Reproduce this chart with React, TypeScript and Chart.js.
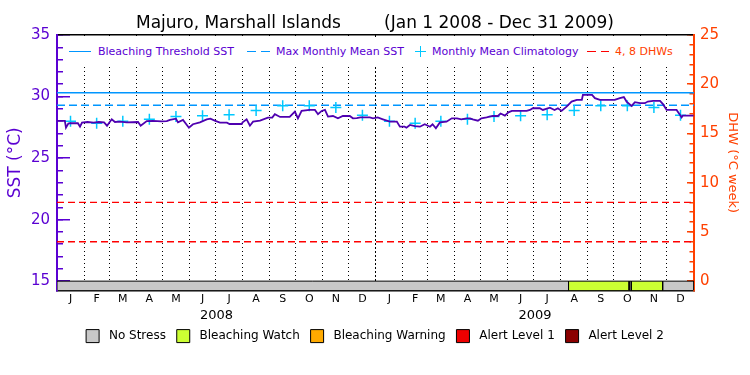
import React, { useEffect, useRef } from 'react';
import { Chart, registerables } from 'chart.js';

Chart.register(...registerables);

// ---------- data ----------
const START = Date.UTC(2008, 0, 1);
const DAY = 86400000;
const TOTAL_DAYS = 731;
const YEARS = [2008, 2009];

const monthLetters = ['J', 'F', 'M', 'A', 'M', 'J', 'J', 'A', 'S', 'O', 'N', 'D'];
const yearLabels = ['2008', '2009'];

// SST (°C) readings: day offset since Jan 1 2008, value
const sstDays = [
  0, 9, 10.3, 13, 15, 24, 26.4, 28.7, 35, 42, 48, 54, 57.4, 62.8, 66.5, 72, 80, 93, 96, 103,
  110, 120, 126, 129.6, 136.5, 138.8, 144.6, 151.4, 156, 164, 171.8, 176, 181, 187, 195, 198,
  212, 213, 217.6, 221.4, 225, 233, 242, 247, 250, 256, 267, 273, 276.5, 280.7, 290, 296,
  299.5, 303.7, 307.5, 311, 316.7, 322.4, 328, 336, 339.6, 344, 348, 359, 362.6, 368, 374,
  382, 390, 393.5, 399, 401, 405, 410.7, 416.5, 422, 428, 431, 434.8, 439.4, 447, 453, 459,
  464, 470, 474, 477, 483, 487, 493, 500, 506, 509, 514, 518, 522, 539, 542.7, 546, 554,
  557.6, 565.6, 571, 574.8, 579, 584.8, 590.5, 596.6, 602.3, 603.5, 614, 617.3, 623, 640,
  645.9, 650.5, 653.6, 659.4, 663.2, 669, 674.6, 678, 684, 692, 695.4, 699.6, 711, 715,
  716.8, 718.2, 730.5,
];
const sstValues = [
  28.02, 28.02, 27.47, 27.8, 27.83, 27.83, 27.55, 27.88, 27.93, 27.88, 27.93, 27.9, 27.63, 28.15, 27.93, 27.96, 27.9, 27.93, 27.63, 28.0,
  28.02, 27.98, 28.0, 28.1, 28.2, 27.9, 28.1, 27.47, 27.75, 27.9, 28.15, 28.2, 28.04, 27.88, 27.88, 27.77,
  27.77, 27.9, 28.15, 27.63, 27.96, 28.04, 28.29, 28.29, 28.56, 28.34, 28.34, 28.77, 28.23, 28.83, 28.91, 28.91,
  28.56, 28.83, 28.91, 28.37, 28.42, 28.23, 28.42, 28.42, 28.23, 28.25, 28.3, 28.3, 28.23, 28.3, 28.15,
  27.96, 27.96, 27.55, 27.55, 27.47, 27.69, 27.6, 27.55, 27.75, 27.55, 27.75, 27.42, 27.9, 27.96, 28.23, 28.23,
  28.15, 28.23, 28.23, 28.15, 28.04, 28.23, 28.3, 28.42, 28.42, 28.62, 28.45, 28.72, 28.83, 28.83, 28.91, 29.05, 29.05,
  28.91, 29.1, 28.91, 29.05, 28.83, 29.18, 29.59, 29.73, 29.73, 30.13, 30.13, 29.87, 29.73, 29.73,
  29.87, 29.95, 29.59, 29.24, 29.54, 29.46, 29.46, 29.59, 29.65, 29.65, 29.38, 28.91, 28.91, 28.5,
  28.3, 28.45, 28.45,
];

// Monthly mean climatology (Jan..Dec)
const climatology = [28.0, 27.82, 28.0, 28.15, 28.37, 28.44, 28.53, 28.86, 29.26, 29.26, 29.1, 28.48];

const bleachingThreshold = 30.3;
const maxMonthlyMean = 29.3;
const dhwLevels = [4, 8];

// Stress-level segments along the bottom bar
const stressStarts = [0, 587, 656.5, 659, 695];
const stressLevels = [0, 1, 0, 1, 0];
const stressNames = ['No Stress', 'Bleaching Watch', 'Bleaching Warning', 'Alert Level 1', 'Alert Level 2'];
const stressColors = ['#c8c8c8', '#ccff33', '#ffaa00', '#ee0000', '#8b0000'];

const sstTicksMajor = [15, 20, 25, 30, 35];
const dhwTicksMajor = [0, 5, 10, 15, 20, 25];

// ---------- styles ----------
const PURPLE = '#5a00d2';
const LINE_PURPLE = '#4f00b0';
const ORANGE = '#ff4000';
const BLUE = '#0096ff';
const CYAN = '#00c8ff';
const RED = '#ff0000';
const FONT = 'DejaVu Sans';

const Y_MIN = 14.24;
const Y_MAX = 35;
const R_MAX = 25;
const frac = (15 - Y_MIN) / (Y_MAX - Y_MIN);
const R_MIN = (-frac * R_MAX) / (1 - frac);

const dayOf = (y: number, m: number) => (Date.UTC(y, m, 1) - START) / DAY;
const monthStarts: number[] = [];
YEARS.forEach((y) => {
  for (let m = 0; m < 12; m++) monthStarts.push(dayOf(y, m));
});
monthStarts.push(TOTAL_DAYS);
const monthMids = monthStarts.slice(0, -1).map((s, i) => (s + monthStarts[i + 1]) / 2);
const yearMids = YEARS.map((y) => (dayOf(y, 0) + dayOf(y + 1, 0)) / 2);
const yearBoundary = dayOf(2009, 0);

// combined bottom labels: month letters + year labels (second line)
type LabelTick = { value: number; label: string | string[]; year: boolean };
const bottomLabels: LabelTick[] = [
  ...monthMids.map((v, i) => ({ value: v, label: monthLetters[i % 12], year: false })),
  ...yearMids.map((v, i) => ({ value: v, label: ['', yearLabels[i]], year: true })),
].sort((a, b) => a.value - b.value);

const range = (a: number, b: number) => {
  const r: number[] = [];
  for (let v = a; v <= b; v++) r.push(v);
  return r;
};

export default function App() {
  const ref = useRef<HTMLCanvasElement | null>(null);

  useEffect(() => {
    if (!ref.current) return;
    Chart.defaults.font.family = FONT;

    const sstData = sstDays.map((d, i) => ({ x: d, y: sstValues[i] }));
    const climData: { x: number; y: number }[] = [];
    YEARS.forEach((_, yi) => {
      climatology.forEach((v, m) => climData.push({ x: monthMids[yi * 12 + m], y: v }));
    });

    const stressDatasets = stressStarts.map((s, i) => {
      const e = i + 1 < stressStarts.length ? stressStarts[i + 1] : TOTAL_DAYS;
      return {
        type: 'line' as const,
        data: [
          { x: s, y: Y_MIN },
          { x: s, y: 15 },
          { x: e, y: 15 },
          { x: e, y: Y_MIN },
        ],
        borderColor: '#000',
        borderWidth: 1,
        backgroundColor: stressColors[stressLevels[i]],
        fill: 'start' as const,
        pointRadius: 0,
        xAxisID: 'x',
        yAxisID: 'y',
      };
    });

    const chart = new Chart(ref.current, {
      type: 'line',
      data: {
        datasets: [
          {
            label: 'SST',
            data: sstData,
            borderColor: LINE_PURPLE,
            borderWidth: 1.8,
            pointRadius: 0,
            fill: false,
            xAxisID: 'x',
            yAxisID: 'y',
          },
          {
            label: 'Monthly Mean Climatology',
            data: climData,
            showLine: false,
            pointStyle: 'cross',
            pointRadius: 5.5,
            borderColor: CYAN,
            borderWidth: 1.5,
            xAxisID: 'x',
            yAxisID: 'y',
          },
          {
            label: 'Bleaching Threshold SST',
            data: [
              { x: 0, y: bleachingThreshold },
              { x: TOTAL_DAYS, y: bleachingThreshold },
            ],
            borderColor: BLUE,
            borderWidth: 1.5,
            pointRadius: 0,
            xAxisID: 'x',
            yAxisID: 'y',
          },
          {
            label: 'Max Monthly Mean SST',
            data: [
              { x: 0, y: maxMonthlyMean },
              { x: TOTAL_DAYS, y: maxMonthlyMean },
            ],
            borderColor: BLUE,
            borderWidth: 1.5,
            borderDash: [8, 4],
            pointRadius: 0,
            xAxisID: 'x',
            yAxisID: 'y',
          },
          ...dhwLevels.map((lv) => ({
            label: 'DHW ' + lv,
            data: [
              { x: 0, y: lv },
              { x: TOTAL_DAYS, y: lv },
            ],
            borderColor: RED,
            borderWidth: 1.3,
            borderDash: [7, 4],
            pointRadius: 0,
            xAxisID: 'x',
            yAxisID: 'yR',
          })),
          ...stressDatasets,
        ] as any,
      },
      options: {
        animation: false,
        responsive: false,
        devicePixelRatio: 1,
        events: [],
        layout: { padding: { left: 0, right: 0, top: 0, bottom: 22.4 } },
        plugins: {
          title: {
            display: true,
            text: 'Majuro, Marshall Islands        (Jan 1 2008 - Dec 31 2009)',
            color: '#000',
            font: { size: 17, weight: 'normal', family: FONT },
            padding: { top: 13.8, bottom: 0.8 },
          },
          legend: {
            position: 'bottom',
            onClick: () => {},
            labels: {
              boxWidth: 13,
              boxHeight: 13,
              padding: 7,
              color: '#000',
              font: { size: 12, family: FONT },
              generateLabels: () =>
                stressNames.map((n, i) => ({
                  text: ' ' + n + (i < stressNames.length - 1 ? ' ' : ''),
                  fillStyle: stressColors[i],
                  strokeStyle: '#000',
                  lineWidth: 1,
                  hidden: false,
                  fontColor: '#000',
                })),
            },
          },
          tooltip: { enabled: false },
        },
        scales: {
          x: {
            type: 'linear',
            position: 'bottom',
            min: 0,
            max: TOTAL_DAYS,
            afterBuildTicks: (s: any) => {
              s.ticks = monthStarts.filter((d) => d > 0 && d < TOTAL_DAYS).map((v) => ({ value: v }));
            },
            ticks: { display: false },
            grid: { color: '#000', lineWidth: 1, drawTicks: false },
            border: {
              color: '#000',
              width: 1.5,
              dash: (c: any) => (c.tick && c.tick.value === yearBoundary ? [2, 2] : [1, 3]),
            },
            afterFit: (s: any) => {
              s.height = 0;
            },
          },
          xLabels: {
            type: 'linear',
            position: 'bottom',
            min: 0,
            max: TOTAL_DAYS,
            afterBuildTicks: (s: any) => {
              s.ticks = bottomLabels.map((t) => ({ value: t.value }));
            },
            ticks: {
              autoSkip: false,
              maxRotation: 0,
              minRotation: 0,
              color: '#000',
              padding: 2.4,
              font: (c: any) =>
                bottomLabels[c.index] && bottomLabels[c.index].year
                  ? { size: 13, lineHeight: 1.144, family: FONT }
                  : { size: 11, lineHeight: 1.2, family: FONT },
              callback: (_v: any, i: number) => bottomLabels[i].label,
            },
            grid: { display: false, drawTicks: false },
            border: { display: false },
            afterFit: (s: any) => {
              s.height = 32.1;
            },
          },
          xTop: {
            type: 'linear',
            position: 'top',
            min: 0,
            max: TOTAL_DAYS,
            ticks: { display: false },
            grid: { display: false, drawTicks: false },
            border: { color: '#000', width: 1.5 },
            afterFit: (s: any) => {
              s.height = 0;
            },
          },
          yMinor: {
            type: 'linear',
            position: 'left',
            min: Y_MIN,
            max: Y_MAX,
            afterBuildTicks: (s: any) => {
              s.ticks = range(15, 35).map((v) => ({ value: v }));
            },
            ticks: { display: false },
            grid: { drawOnChartArea: false, tickLength: -6, color: PURPLE, lineWidth: 1.5 },
            border: { display: false },
            afterFit: (s: any) => {
              s.width = 0;
            },
          },
          y: {
            type: 'linear',
            position: 'left',
            min: Y_MIN,
            max: Y_MAX,
            afterBuildTicks: (s: any) => {
              s.ticks = sstTicksMajor.map((v) => ({ value: v }));
            },
            ticks: { color: PURPLE, font: { size: 15 }, padding: 20 },
            grid: { drawOnChartArea: false, tickLength: -13, color: PURPLE, lineWidth: 1.5 },
            border: { color: PURPLE, width: 2 },
            title: {
              display: true,
              text: 'SST (°C)',
              color: PURPLE,
              font: { size: 17 },
              padding: { top: 5.8, bottom: 0 },
            },
            afterFit: (s: any) => {
              s.width = 57;
            },
          },
          yRMinor: {
            type: 'linear',
            position: 'right',
            min: R_MIN,
            max: R_MAX,
            afterBuildTicks: (s: any) => {
              s.ticks = range(0, 25).map((v) => ({ value: v }));
            },
            ticks: { display: false },
            grid: { drawOnChartArea: false, tickLength: -4.5, color: ORANGE, lineWidth: 1.5 },
            border: { display: false },
            afterFit: (s: any) => {
              s.width = 0;
            },
          },
          yR: {
            type: 'linear',
            position: 'right',
            min: R_MIN,
            max: R_MAX,
            afterBuildTicks: (s: any) => {
              s.ticks = dhwTicksMajor.map((v) => ({ value: v }));
            },
            ticks: { color: ORANGE, font: { size: 15 }, padding: 13 },
            grid: { drawOnChartArea: false, tickLength: -7, color: ORANGE, lineWidth: 1.5 },
            border: { color: ORANGE, width: 2 },
            title: {
              display: true,
              text: 'DHW (°C week)',
              color: ORANGE,
              font: { size: 13 },
              padding: { top: 10.2, bottom: 0 },
            },
            afterFit: (s: any) => {
              s.width = 56;
            },
          },
        } as any,
      },
    });
    return () => chart.destroy();
  }, []);

  const txt: React.CSSProperties = {
    position: 'absolute',
    top: 44.5,
    fontFamily: FONT,
    fontSize: 11,
    lineHeight: '13px',
    whiteSpace: 'nowrap',
    color: PURPLE,
  };
  const seg = (left: number, width: number, color: string): React.CSSProperties => ({
    position: 'absolute',
    left,
    top: 50.5,
    width,
    height: 0,
    borderTop: `1.5px solid ${color}`,
  });

  return (
    <div style={{ position: 'absolute', left: 0, top: 0, width: 750, height: 375, background: '#fff' }}>
      <canvas ref={ref} width={750} height={375} style={{ display: 'block' }} />
      <div style={{ position: 'absolute', left: 64, top: 37, width: 622, height: 28, background: '#fff' }} />
      <div style={seg(69, 22, BLUE)} />
      <div style={{ ...txt, left: 98 }}>Bleaching Threshold SST</div>
      <div style={seg(247, 9, BLUE)} />
      <div style={seg(261, 9, BLUE)} />
      <div style={{ ...txt, left: 276 }}>Max Monthly Mean SST</div>
      <div style={seg(415, 11, CYAN)} />
      <div
        style={{
          position: 'absolute',
          left: 419.75,
          top: 45.5,
          width: 0,
          height: 11,
          borderLeft: `1.5px solid ${CYAN}`,
        }}
      />
      <div style={{ ...txt, left: 432 }}>Monthly Mean Climatology</div>
      <div style={seg(587, 9, RED)} />
      <div style={seg(601, 8, RED)} />
      <div style={{ ...txt, left: 615, color: ORANGE }}>4, 8 DHWs</div>
    </div>
  );
}
